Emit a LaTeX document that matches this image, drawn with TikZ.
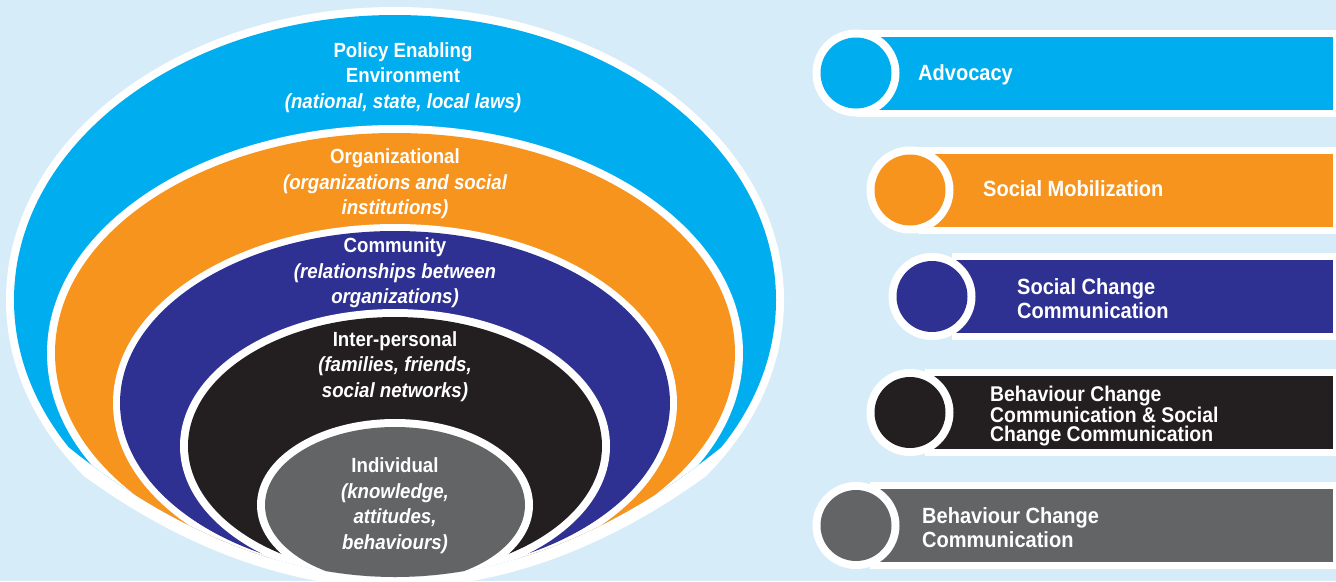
\documentclass[tikz,border=0pt]{standalone}
\usepackage{fontspec}
\setmainfont{Liberation Sans}[FakeStretch=0.91]
\definecolor{bgc}{RGB}{214,237,249}
\definecolor{cblue}{RGB}{0,174,239}
\definecolor{corange}{RGB}{247,148,30}
\definecolor{cpurple}{RGB}{46,49,146}
\definecolor{cblack}{RGB}{35,31,32}
\definecolor{cgray}{RGB}{99,100,102}
\newcommand\lfnt{\fontsize{20.5}{25.5}\selectfont\bfseries}
\newcommand\rfnt{\fontsize{22}{24}\selectfont\bfseries}
\newcommand\rfnttight{\fontsize{21.3}{19.5}\selectfont\bfseries}
\tikzset{
  lbl/.style={text=white, font=\lfnt, align=center, inner sep=0pt},
  rlbl/.style={text=white, font=\rfnt, align=left, anchor=west, inner sep=0pt},
}
\newcommand\rowbar[4]{% cx, cy, rect-left, colour
  \fill[white] (#3,#2-43.5) rectangle (1336,#2+43.5);
  \fill[#4] (#3+4,#2-36.5) rectangle (1332.5,#2+36.5);
  \fill[white] (#1,#2) circle[radius=43.5];
  \fill[#4] (#1,#2) circle[radius=35.5];
}
\begin{document}
\begin{tikzpicture}[x=1pt,y=-1pt]
\useasboundingbox (0,0) rectangle (1336,581);
\fill[bgc] (0,0) rectangle (1336,581);
% outer white shape
\begin{scope}
  \clip (55,454) parabola bend (395,588) (735,454) -- (900,454) -- (900,-50) -- (-110,-50) -- (-110,454) -- cycle;
  \fill[white] (395,300) ellipse[x radius=389, y radius=293];
\end{scope}
% inner layers
\begin{scope}
  \clip (55,436) parabola bend (395,577) (735,436) -- (900,436) -- (900,-50) -- (-110,-50) -- (-110,436) -- cycle;
  \clip (395,300) ellipse[x radius=381, y radius=285];
  \fill[cblue] (0,0) rectangle (800,600);
  \fill[white] (395,353) ellipse[x radius=348, y radius=228];
  \fill[corange] (395,353) ellipse[x radius=340, y radius=220];
  \fill[white] (395,403) ellipse[x radius=282, y radius=179];
  \fill[cpurple] (395,403) ellipse[x radius=275, y radius=172];
  \fill[white] (395,446) ellipse[x radius=215, y radius=137];
  \fill[cblack] (395,446) ellipse[x radius=207, y radius=129];
  \fill[white] (395,505) ellipse[x radius=138, y radius=86];
  \fill[cgray] (395,505) ellipse[x radius=130, y radius=78];
\end{scope}
\node[lbl] (policy) at (403,77.5) {Policy Enabling\\Environment\\\itshape(national, state, local laws)};
\node[lbl] (org) at (395,184) {Organizational\\\itshape(organizations and social\\\itshape institutions)};
\node[lbl] (comm) at (395,273) {Community\\\itshape(relationships between\\\itshape organizations)};
\node[lbl] (inter) at (395,366.5) {Inter-personal\\\itshape(families, friends,\\\itshape social networks)};
\node[lbl] (indiv) at (395,505.5) {Individual\\\itshape(knowledge,\\\itshape attitudes,\\\itshape behaviours)};
% right bars
\rowbar{856}{73}{856}{cblue}
\rowbar{910}{190}{918}{corange}
\rowbar{932}{296.5}{952}{cpurple}
\rowbar{910}{412.5}{925}{cblack}
\rowbar{856}{525.5}{870}{cgray}
\node[rlbl] (adv) at (918,75) {Advocacy};
\node[rlbl] (sm) at (983,188.5) {Social Mobilization};
\node[rlbl] (scc) at (1017,299) {Social Change\\Communication};
\node[rlbl, font=\rfnttight] (bscc) at (990,416) {Behaviour Change\\Communication \& Social\\Change Communication};
\node[rlbl] (bcc) at (922,528) {Behaviour Change\\Communication};
\end{tikzpicture}
\end{document}
